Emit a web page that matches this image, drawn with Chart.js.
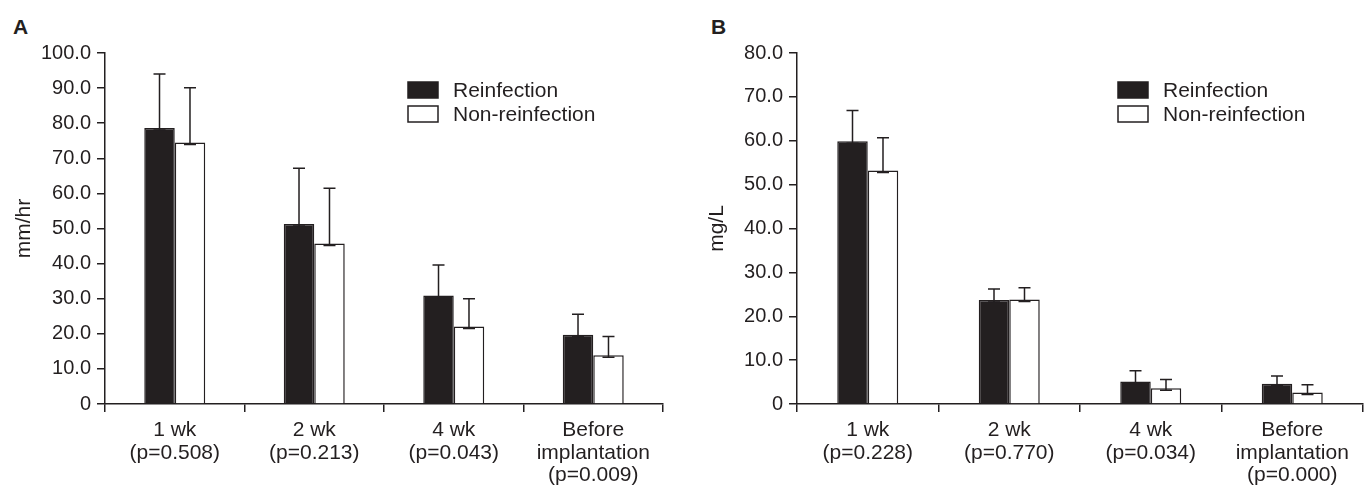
<!DOCTYPE html>
<html>
<head>
<meta charset="utf-8">
<script src="https://cdn.jsdelivr.net/npm/chart.js@4.4.1/dist/chart.umd.min.js"></script>
<style>
  html, body { margin: 0; padding: 0; background: #fff; }
  body { width: 1364px; height: 488px; position: relative; overflow: hidden; font-family: "Liberation Sans", Arial, sans-serif; }
  .panel { position: absolute; top: 0; height: 488px; }
  .letter { position: absolute; font-weight: bold; font-size: 21px; color: #231f20; }
</style>
</head>
<body>
<div class="letter" style="left:13px; top:15px;">A</div>
<div class="letter" style="left:711px; top:15px;">B</div>
<div class="panel" style="left:0; width:682px;"><canvas id="chartA" width="682" height="488"></canvas></div>
<div class="panel" style="left:682px; width:682px;"><canvas id="chartB" width="682" height="488"></canvas></div>
<script>
// Categories (x axis)
const categoriesA = [['1 wk', '(p=0.508)'], ['2 wk', '(p=0.213)'], ['4 wk', '(p=0.043)'], ['Before', 'implantation', '(p=0.009)']];
const categoriesB = [['1 wk', '(p=0.228)'], ['2 wk', '(p=0.770)'], ['4 wk', '(p=0.034)'], ['Before', 'implantation', '(p=0.000)']];
const seriesNames = ['Reinfection', 'Non-reinfection'];

// Panel A: ESR (mm/hr), means and top of error bars
const reinfA = [78.6, 51.3, 30.9, 19.7];
const reinfErrA = [94.0, 67.2, 39.6, 25.6];
const nonReinfA = [74.5, 45.7, 22.1, 13.9];
const nonReinfErrA = [90.1, 61.5, 30.0, 19.2];

// Panel B: CRP (mg/L)
const reinfB = [59.9, 23.7, 5.1, 4.6];
const reinfErrB = [66.9, 26.2, 7.6, 6.4];
const nonReinfB = [53.2, 23.8, 3.6, 2.6];
const nonReinfErrB = [60.7, 26.5, 5.6, 4.4];

// Tick labels
const ticksA = [0, 10, 20, 30, 40, 50, 60, 70, 80, 90, 100];
const ticksB = [0, 10, 20, 30, 40, 50, 60, 70, 80];

const ink = '#231f20';
const fontFamily = '"Liberation Sans", Arial, sans-serif';

// draw the upward error bars with caps
const errorBars = {
  id: 'errorBars',
  afterDatasetsDraw(chart) {
    const ctx = chart.ctx;
    const y = chart.scales.y;
    chart.data.datasets.forEach((ds, i) => {
      const meta = chart.getDatasetMeta(i);
      meta.data.forEach((bar, j) => {
        const top = y.getPixelForValue(ds.errTop[j]);
        const base = bar.y + 2;
        ctx.save();
        ctx.strokeStyle = ink;
        ctx.lineWidth = 1.5;
        ctx.beginPath();
        ctx.moveTo(bar.x, base);
        ctx.lineTo(bar.x, top);
        ctx.moveTo(bar.x - 6, top);
        ctx.lineTo(bar.x + 6, top);
        ctx.moveTo(bar.x - 6, base);
        ctx.lineTo(bar.x + 6, base);
        ctx.stroke();
        ctx.restore();
      });
    });
  }
};

// simple legend drawn inside the plot
const boxLegend = {
  id: 'boxLegend',
  afterDraw(chart, args, opts) {
    const ctx = chart.ctx;
    const x0 = chart.chartArea.left + opts.dx;
    let y0 = chart.chartArea.top + opts.dy;
    ctx.save();
    ctx.font = '21px ' + fontFamily;
    ctx.textBaseline = 'middle';
    chart.data.datasets.forEach(ds => {
      ctx.fillStyle = ds.backgroundColor;
      ctx.fillRect(x0, y0, 30, 16);
      ctx.strokeStyle = ink;
      ctx.lineWidth = 1.5;
      ctx.strokeRect(x0, y0, 30, 16);
      ctx.fillStyle = ink;
      ctx.fillText(ds.label, x0 + 45, y0 + 9);
      y0 += 24;
    });
    ctx.restore();
  }
};

function makeChart(id, cats, r, rErr, n, nErr, ticks, yTitle, cfg) {
  const maxY = ticks[ticks.length - 1];
  return new Chart(document.getElementById(id), {
    type: 'bar',
    data: {
      labels: cats,
      datasets: [
        { label: seriesNames[0], data: r, errTop: rErr, backgroundColor: ink, borderColor: ink, borderWidth: 1.5 },
        { label: seriesNames[1], data: n, errTop: nErr, backgroundColor: '#ffffff', borderColor: ink, borderWidth: 1.5 }
      ]
    },
    options: {
      responsive: false,
      animation: false,
      events: [],
      layout: { padding: { left: 0, right: cfg.right, top: 53, bottom: 0 } },
      datasets: { bar: { categoryPercentage: cfg.catPct, barPercentage: 1.0 } },
      plugins: {
        legend: { display: false },
        tooltip: { enabled: false },
        boxLegend: { dx: cfg.legX, dy: 29 }
      },
      scales: {
        x: {
          grid: { display: true, offset: true, drawOnChartArea: false, drawTicks: true, tickLength: 8, color: ink, lineWidth: 1.5 },
          border: { display: true, color: ink, width: 1.5 },
          ticks: { color: ink, font: { family: fontFamily, size: 21, lineHeight: 1.07 }, padding: 7, maxRotation: 0 },
          afterFit(scale) { scale.height = 84; }
        },
        y: {
          min: 0,
          max: maxY,
          afterBuildTicks(scale) { scale.ticks = ticks.map(v => ({ value: v })); },
          grid: { display: true, drawOnChartArea: false, drawTicks: true, tickLength: 8, color: ink, lineWidth: 1.5 },
          border: { display: true, color: ink, width: 1.5 },
          ticks: {
            color: ink,
            font: { family: fontFamily, size: 20 },
            padding: 6,
            callback: v => v === 0 ? '0' : v.toFixed(1)
          },
          title: { display: true, text: yTitle, color: ink, font: { family: fontFamily, size: 21 }, padding: { top: cfg.titlePad, bottom: 0 } },
          afterFit(scale) { scale.width = cfg.axisLeft; }
        }
      }
    },
    plugins: [errorBars, boxLegend]
  });
}

makeChart('chartA', categoriesA, reinfA, reinfErrA, nonReinfA, nonReinfErrA, ticksA, 'mm/hr',
  { right: 19, catPct: 0.437, legX: 303, titlePad: 12, axisLeft: 105 });
makeChart('chartB', categoriesB, reinfB, reinfErrB, nonReinfB, nonReinfErrB, ticksB, 'mg/L',
  { right: 1, catPct: 0.431, legX: 321, titlePad: 23, axisLeft: 115 });
</script>
</body>
</html>
